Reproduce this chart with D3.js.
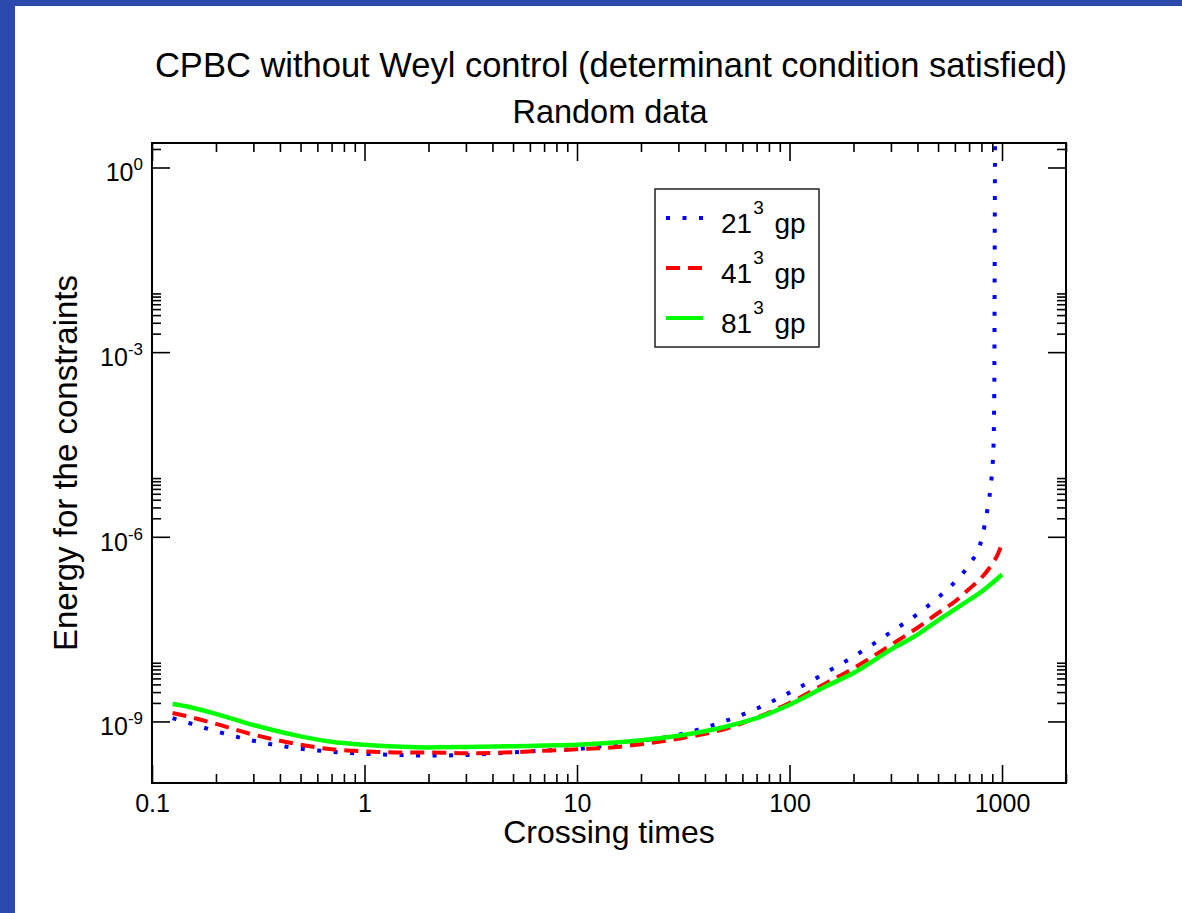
<!DOCTYPE html>
<html>
<head>
<meta charset="utf-8">
<script src="https://cdn.jsdelivr.net/npm/d3@7"></script>
<style>
  body { margin: 0; background: #fff; }
  text { font-family: "Liberation Sans", Arial, Helvetica, sans-serif; fill: #000; }
</style>
</head>
<body>
<svg id="chart" width="1182" height="913"></svg>
<script>
// crossing times and constraint energy
var t21 = [0.125, 0.15, 0.2, 0.3, 0.5, 0.7, 1, 1.5, 2, 3, 5, 7, 10, 15, 20, 30, 50, 70, 100, 150, 200, 300, 400, 500, 600, 700, 800, 850, 880, 900, 912, 920, 925, 930]
  , e21 = [1.13e-9, 9.38e-10, 6.93e-10, 4.86e-10, 3.61e-10, 3.22e-10, 2.98e-10, 2.84e-10, 2.79e-10, 2.85e-10, 3.15e-10, 3.37e-10, 3.57e-10, 4.19e-10, 4.78e-10, 6.08e-10, 1.02e-9, 1.61e-9, 2.94e-9, 6.35e-9, 1.13e-8, 2.83e-8, 5.56e-8, 1.03e-7, 1.85e-7, 3.53e-7, 8.97e-7, 2.54e-6, 5.69e-6, 1.30e-5, 3.09e-5, 3.55e-4, 0.295, 83]
  , t41 = [0.125, 0.15, 0.2, 0.3, 0.5, 0.7, 1, 1.5, 2, 3, 5, 7, 10, 15, 20, 30, 50, 70, 100, 150, 200, 300, 400, 500, 600, 700, 800, 900, 950, 1000]
  , e41 = [1.37e-9, 1.19e-9, 9.12e-10, 6.11e-10, 4.20e-10, 3.53e-10, 3.27e-10, 3.13e-10, 3.13e-10, 3.04e-10, 3.16e-10, 3.34e-10, 3.53e-10, 3.81e-10, 4.27e-10, 5.24e-10, 7.62e-10, 1.15e-9, 2.00e-9, 4.26e-9, 7.33e-9, 1.75e-8, 3.33e-8, 5.78e-8, 8.89e-8, 1.42e-7, 2.16e-7, 3.64e-7, 4.98e-7, 7.82e-7]
  , t81 = [0.125, 0.15, 0.2, 0.3, 0.5, 0.7, 1, 1.5, 2, 3, 5, 7, 10, 15, 20, 30, 50, 70, 100, 150, 200, 300, 400, 500, 600, 700, 800, 900, 1000]
  , e81 = [1.92e-9, 1.72e-9, 1.33e-9, 8.75e-10, 5.73e-10, 4.68e-10, 4.19e-10, 3.88e-10, 3.79e-10, 3.84e-10, 3.95e-10, 4.06e-10, 4.19e-10, 4.54e-10, 4.95e-10, 5.86e-10, 8.22e-10, 1.13e-9, 1.87e-9, 3.79e-9, 6.12e-9, 1.47e-8, 2.58e-8, 4.37e-8, 6.59e-8, 9.40e-8, 1.28e-7, 1.78e-7, 2.44e-7]

var seriesNames = ["21", "41", "81"]
  , seriesColors = ["#0000ff", "#ff0000", "#00ff00"]
  , seriesDash = ["4,12.5", "14,8", null]

var xMajor = [0.1, 1, 10, 100, 1000]
  , xMajorLabels = ["0.1", "1", "10", "100", "1000"]
  , yMajor = [1, 1e-3, 1e-6, 1e-9]
  , yMajorExp = ["0", "-3", "-6", "-9"]

var W = 1182, H = 913
  , margin = {left: 152, top: 143, right: 116, bottom: 130}
  , width = W - margin.left - margin.right
  , height = H - margin.top - margin.bottom

var svg = d3.select("#chart")

// slide frame: blue strip at left and top
svg.append("rect").attr("width", W).attr("height", H).style("fill", "#2c4aae")
svg.append("rect").attr("x", 15).attr("y", 6).attr("width", W - 15).attr("height", H - 6).style("fill", "#fff")

var x = d3.scaleLog().domain([0.1, 2000]).range([0, width])
  , y = d3.scaleLog().domain([1e-10, 2.5]).range([height, 0])

var g = svg.append("g").attr("transform", "translate(" + margin.left + "," + margin.top + ")")

// minor ticks: 2..9 within each labelled decade
var xMinor = []
xMajor.forEach(function(d){ d3.range(2, 10).forEach(function(k){ if (k*d <= 2000) xMinor.push(k*d) }) })
var yMinor = []
yMajor.forEach(function(d){ d3.range(2, 10).forEach(function(k){ if (k*d <= 2.5) yMinor.push(k*d) }) })

function tickStyle(sel){
  sel.select(".domain").remove()
  sel.selectAll(".tick line").style("stroke", "#000").style("stroke-width", 1.6)
}

g.append("g").attr("transform", "translate(0," + height + ")")
  .call(d3.axisBottom(x).tickValues(xMinor).tickSize(-9).tickFormat(""))
  .call(tickStyle)
g.append("g").attr("transform", "translate(0," + height + ")")
  .call(d3.axisBottom(x).tickValues(xMajor).tickSize(-18).tickPadding(11)
    .tickFormat(function(d, i){ return xMajorLabels[i] }))
  .call(tickStyle)
  .selectAll("text").style("font-size", "25px").style("font-family", null)
g.append("g")
  .call(d3.axisTop(x).tickValues(xMinor).tickSize(-9).tickFormat(""))
  .call(tickStyle)
g.append("g")
  .call(d3.axisTop(x).tickValues(xMajor).tickSize(-18).tickFormat(""))
  .call(tickStyle)

g.append("g")
  .call(d3.axisLeft(y).tickValues(yMinor).tickSize(-9).tickFormat(""))
  .call(tickStyle)
g.append("g")
  .call(d3.axisLeft(y).tickValues(yMajor).tickSize(-18).tickFormat(""))
  .call(tickStyle)
g.append("g").attr("transform", "translate(" + width + ",0)")
  .call(d3.axisRight(y).tickValues(yMinor).tickSize(-9).tickFormat(""))
  .call(tickStyle)
g.append("g").attr("transform", "translate(" + width + ",0)")
  .call(d3.axisRight(y).tickValues(yMajor).tickSize(-18).tickFormat(""))
  .call(tickStyle)

// y labels as 10^n
var yl = g.selectAll(".ylab").data(yMajor).enter().append("text")
  .attr("class", "ylab")
  .attr("x", -9)
  .attr("y", function(d){ return y(d) + 14 })
  .style("text-anchor", "end")
  .style("font-size", "25px")
yl.append("tspan").text("10")
yl.append("tspan").attr("dy", -11).style("font-size", "17px").text(function(d, i){ return yMajorExp[i] })

// curves
g.append("clipPath").attr("id", "plot-clip")
  .append("rect").attr("width", width).attr("height", height)

var line = d3.line()
  .x(function(d){ return x(d[0]) })
  .y(function(d){ return y(d[1]) })
  .curve(d3.curveMonotoneX)

var series = [
  d3.zip(t21, e21),
  d3.zip(t41, e41),
  d3.zip(t81, e81)
]

g.append("g").attr("clip-path", "url(#plot-clip)")
  .selectAll("path").data(series).enter().append("path")
    .attr("d", line)
    .style("fill", "none")
    .style("stroke", function(d, i){ return seriesColors[i] })
    .style("stroke-width", function(d, i){ return i == 2 ? 4.5 : 4 })
    .style("stroke-dasharray", function(d, i){ return seriesDash[i] })

// frame
g.append("rect").attr("width", width).attr("height", height)
  .style("fill", "none").style("stroke", "#000").style("stroke-width", 2)

// legend
var lg = svg.append("g").attr("transform", "translate(655,189)")
lg.append("rect").attr("width", 164).attr("height", 158)
  .style("fill", "#fff").style("stroke", "#222").style("stroke-width", 1.5)
var item = lg.selectAll(".item").data(seriesNames).enter().append("g")
  .attr("class", "item")
  .attr("transform", function(d, i){ return "translate(0," + (29 + i*50) + ")" })
item.append("line").attr("x1", 11).attr("x2", 48)
  .style("stroke", function(d, i){ return seriesColors[i] })
  .style("stroke-width", 4)
  .style("stroke-dasharray", function(d, i){ return seriesDash[i] })
var it = item.append("text").attr("x", 66).attr("y", 15).style("font-size", "28px")
it.append("tspan").text(function(d){ return d })
it.append("tspan").attr("dx", 1).attr("dy", -19).style("font-size", "19px").text("3")
it.append("tspan").attr("dx", 3).attr("dy", 19).text(" gp")

// titles
svg.append("text").attr("x", 611).attr("y", 77).style("text-anchor", "middle").style("font-size", "34.5px")
  .text("CPBC without Weyl control (determinant condition satisfied)")
svg.append("text").attr("x", 610).attr("y", 123).style("text-anchor", "middle").style("font-size", "32.5px")
  .text("Random data")
svg.append("text").attr("x", 609).attr("y", 843).style("text-anchor", "middle").style("font-size", "32px")
  .text("Crossing times")
svg.append("text").attr("transform", "translate(77,463) rotate(-90)").style("text-anchor", "middle").style("font-size", "33px")
  .text("Energy for the constraints")
</script>
</body>
</html>
